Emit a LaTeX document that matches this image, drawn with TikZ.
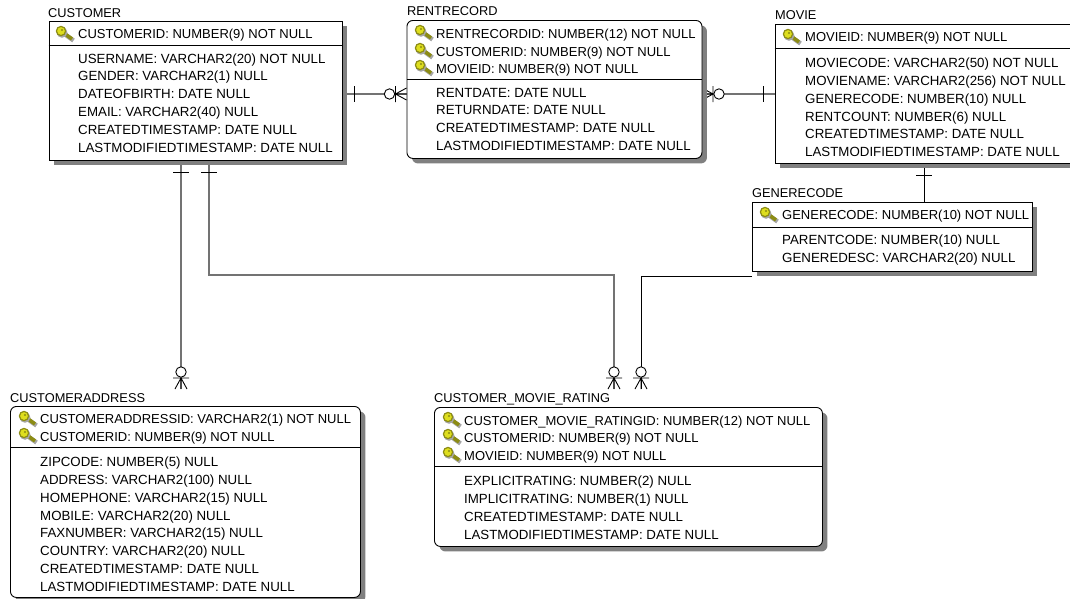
\documentclass[tikz,border=0pt]{standalone}
\usepackage{fontspec}
\setmainfont{Liberation Sans}
\usetikzlibrary{positioning,shadows,backgrounds}
\definecolor{keyyellow}{RGB}{222,222,30}
\definecolor{keyolive}{RGB}{140,140,20}
\tikzset{
  entitybox/.style={draw=black,fill=white,line width=.9pt,inner sep=0pt,anchor=north west,
    general shadow={shadow xshift=5pt,shadow yshift=-5pt,fill=black!50}},
  roundbox/.style={entitybox,rounded corners=6pt},
  entitytitle/.style={anchor=west,inner sep=0pt,font=\fontsize{12.8}{14}\selectfont},
  rowtext/.style={anchor=north west,inner sep=0pt,align=left,font=\fontsize{13.3}{17.8}\selectfont,execute at begin node=\strut},
  keytext/.style={rowtext,font=\fontsize{13}{17.6}\selectfont},
  relline/.style={line width=.9pt,black},
  softline/.style={line width=1.3pt,black!55},
  onebar/.pic={\draw[relline] (0,-8)--(0,8);},
  zeromany/.pic={
    \draw[relline] (-11,0)--(0,0) (-11,0)--(0,-6) (-11,0)--(0,6) (-11,-8)--(-11,8);
    \draw[relline,fill=white] (-17,0) circle (5.2pt);
  },
  keyicon/.pic={
    \draw[line width=4.4pt,black!35] (2,2)--(12.5,9.5);
    \draw[line width=3.6pt,keyolive] (0,0)--(11,8);
    \fill[black!35] (1,1.4) circle (5.4pt);
    \draw[keyolive,fill=keyyellow,line width=1.2pt] (0,0) circle (4.6pt);
    \fill[keyolive] (1,-1) circle (1.2pt);
  }
}
\begin{document}
\begin{tikzpicture}[x=1pt,y=-1pt]
\path[use as bounding box] (0,0) rectangle (1070,598);
\clip (0,0) rectangle (1070,598);
% entities
\node[entitybox,minimum width=293.5pt,minimum height=139pt] (customer) at (48.5,21) {};
\node[roundbox,minimum width=295pt,minimum height=138pt] (rentrecord) at (406.5,20) {};
\node[entitybox,minimum width=300pt,minimum height=139pt] (movie) at (774.5,24) {};
\node[entitybox,minimum width=280pt,minimum height=69pt] (generecode) at (752,202) {};
\node[roundbox,minimum width=350pt,minimum height=191pt] (customeraddress) at (10,406) {};
\node[roundbox,minimum width=388pt,minimum height=139pt] (rating) at (434,407) {};
% separators
\draw[relline] (customer.west |- 0,45) -- (customer.east |- 0,45);
\draw[relline] (rentrecord.west |- 0,79) -- (rentrecord.east |- 0,79);
\draw[relline] (movie.west |- 0,48) -- (movie.east |- 0,48);
\draw[relline] (generecode.west |- 0,227) -- (generecode.east |- 0,227);
\draw[relline] (customeraddress.west |- 0,447) -- (customeraddress.east |- 0,447);
\draw[relline] (rating.west |- 0,466) -- (rating.east |- 0,466);
% titles
\node[entitytitle] (customerTitle) at (48,13) {CUSTOMER};
\node[entitytitle] (rentrecordTitle) at (407,11) {RENTRECORD};
\node[entitytitle] (movieTitle) at (775,15) {MOVIE};
\node[entitytitle] (generecodeTitle) at (752,193) {GENERECODE};
\node[entitytitle] (customeraddressTitle) at (10,398) {CUSTOMERADDRESS};
\node[entitytitle] (ratingTitle) at (434,399) {CUSTOMER\_MOVIE\_RATING};
% key columns
\node[keytext] (customerKeys) at (78,25.8) {CUSTOMERID: NUMBER(9) NOT NULL};
\node[keytext] (rentrecordKeys) at (436,28.8) {RENTRECORDID: NUMBER(12) NOT NULL\\CUSTOMERID: NUMBER(9) NOT NULL\\MOVIEID: NUMBER(9) NOT NULL};
\node[keytext] (movieKeys) at (805,28.8) {MOVIEID: NUMBER(9) NOT NULL};
\node[keytext] (generecodeKeys) at (782,206.8) {GENERECODE: NUMBER(10) NOT NULL};
\node[keytext] (customeraddressKeys) at (40,414) {CUSTOMERADDRESSID: VARCHAR2(1) NOT NULL\\CUSTOMERID: NUMBER(9) NOT NULL};
\node[keytext] (ratingKeys) at (464,415.6) {CUSTOMER\_MOVIE\_RATINGID: NUMBER(12) NOT NULL\\CUSTOMERID: NUMBER(9) NOT NULL\\MOVIEID: NUMBER(9) NOT NULL};
% other columns
\node[rowtext] (customerCols) at (78,53.2) {USERNAME: VARCHAR2(20) NOT NULL\\GENDER: VARCHAR2(1) NULL\\DATEOFBIRTH: DATE NULL\\EMAIL: VARCHAR2(40) NULL\\CREATEDTIMESTAMP: DATE NULL\\LASTMODIFIEDTIMESTAMP: DATE NULL};
\node[rowtext] (rentrecordCols) at (436,87.8) {RENTDATE: DATE NULL\\RETURNDATE: DATE NULL\\CREATEDTIMESTAMP: DATE NULL\\LASTMODIFIEDTIMESTAMP: DATE NULL};
\node[rowtext] (movieCols) at (805,57.8) {MOVIECODE: VARCHAR2(50) NOT NULL\\MOVIENAME: VARCHAR2(256) NOT NULL\\GENERECODE: NUMBER(10) NULL\\RENTCOUNT: NUMBER(6) NULL\\CREATEDTIMESTAMP: DATE NULL\\LASTMODIFIEDTIMESTAMP: DATE NULL};
\node[rowtext] (generecodeCols) at (782,234.8) {PARENTCODE: NUMBER(10) NULL\\GENEREDESC: VARCHAR2(20) NULL};
\node[rowtext] (customeraddressCols) at (40,456.8) {ZIPCODE: NUMBER(5) NULL\\ADDRESS: VARCHAR2(100) NULL\\HOMEPHONE: VARCHAR2(15) NULL\\MOBILE: VARCHAR2(20) NULL\\FAXNUMBER: VARCHAR2(15) NULL\\COUNTRY: VARCHAR2(20) NULL\\CREATEDTIMESTAMP: DATE NULL\\LASTMODIFIEDTIMESTAMP: DATE NULL};
\node[rowtext] (ratingCols) at (464,475.8) {EXPLICITRATING: NUMBER(2) NULL\\IMPLICITRATING: NUMBER(1) NULL\\CREATEDTIMESTAMP: DATE NULL\\LASTMODIFIEDTIMESTAMP: DATE NULL};
% keys
\pic at (61,31) {keyicon};
\foreach \ky in {30,48,65} \pic at (420,\ky) {keyicon};
\pic at (788,34) {keyicon};
\pic at (765,212) {keyicon};
\foreach \ky in {416,433} \pic at (24,\ky) {keyicon};
\foreach \ky in {417,434,452} \pic at (448,\ky) {keyicon};
% connectors
\coordinate (rentIn) at (406.5,94);
\coordinate (addressIn) at (181,389);
\coordinate (ratingIn) at (614,389);
\coordinate (ratingBend) at (209,275);
\coordinate (movieIn) at (702,94);
\coordinate (genreIn) at (641,389);
\coordinate (genreBend) at (641,276);
\coordinate (genreUp) at (924,202);
\begin{pgfonlayer}{background}
\draw[softline] (customer.east |- rentIn) -- (rentIn);
\draw[softline] (customer.south -| addressIn) -- (addressIn);
\draw[softline] (customer.south -| ratingBend) -- (ratingBend) -| (ratingIn);
\draw[softline] (movieIn) -- (movie.west |- movieIn);
\draw[relline] (generecode.south west |- genreBend) -- (genreBend) -- (genreIn);
\draw[relline] (movie.south -| genreUp) -- (genreUp);
\pic[rotate=180] at (movieIn) {zeromany};
\end{pgfonlayer}
% cardinality marks
\pic at (354,94) {onebar};
\pic at (rentIn) {zeromany};
\pic at (763.5,94) {onebar};
\pic[rotate=90] at (181,172) {onebar};
\pic[rotate=-90] at (addressIn) {zeromany};
\pic[rotate=90] at (209,172) {onebar};
\pic[rotate=-90] at (ratingIn) {zeromany};
\pic[rotate=-90] at (genreIn) {zeromany};
\pic[rotate=90] at (924,175) {onebar};
\end{tikzpicture}
\end{document}
